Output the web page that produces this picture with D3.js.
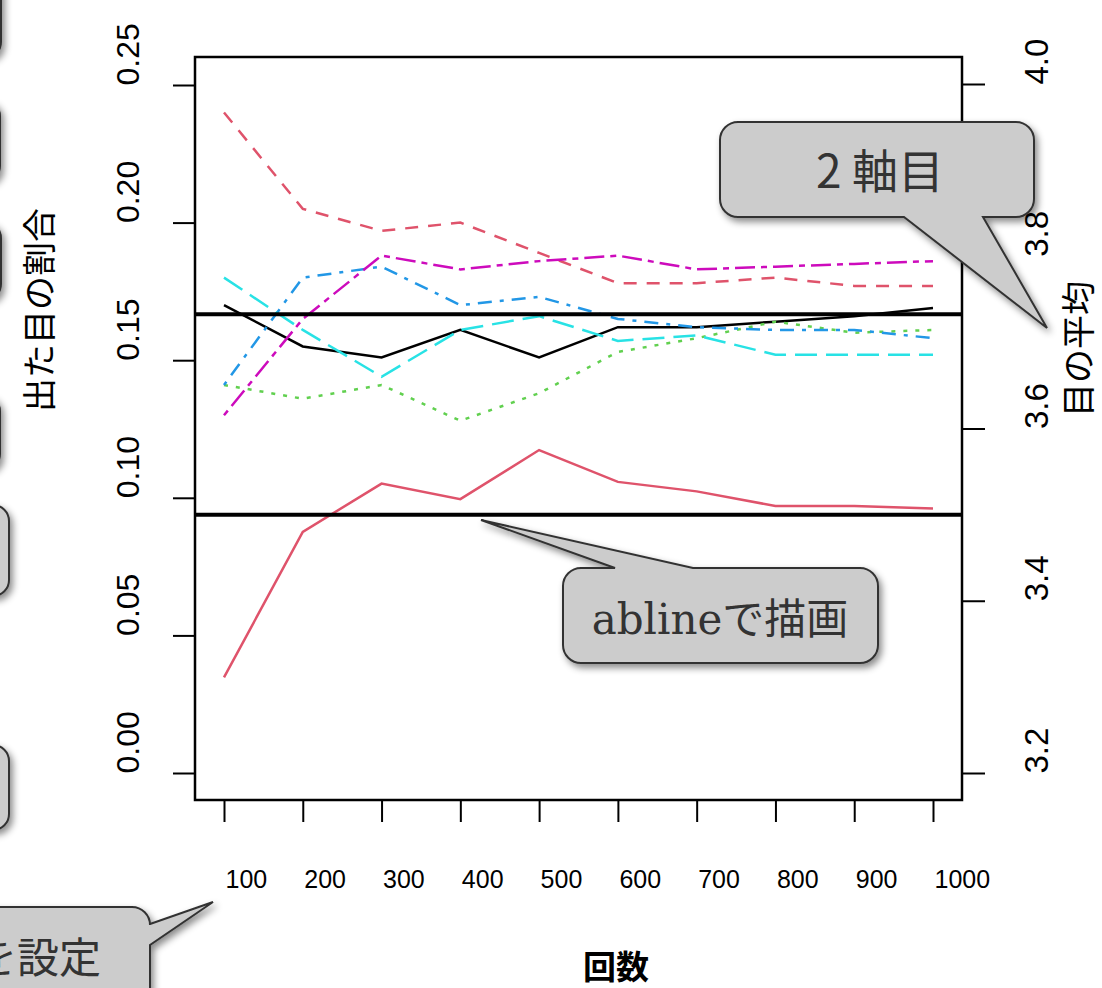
<!DOCTYPE html>
<html>
<head>
<meta charset="utf-8">
<script src="https://cdn.jsdelivr.net/npm/d3@7"></script>
<style>
  body { margin: 0; background: #fff; }
  svg { display: block; }
</style>
</head>
<body>
<div id="chart"></div>
<script>
// rounds (x) and proportions of each face, plus running mean
const rounds = [100, 200, 300, 400, 500, 600, 700, 800, 900, 1000];
const prop1 = [0.170, 0.155, 0.151, 0.161, 0.151, 0.162, 0.162, 0.164, 0.166, 0.169];
const prop2 = [0.240, 0.205, 0.197, 0.200, 0.189, 0.178, 0.178, 0.180, 0.177, 0.177];
const prop3 = [0.141, 0.136, 0.141, 0.128, 0.138, 0.153, 0.158, 0.164, 0.160, 0.161];
const prop4 = [0.141, 0.180, 0.184, 0.170, 0.173, 0.165, 0.162, 0.161, 0.161, 0.158];
const prop5 = [0.180, 0.161, 0.144, 0.161, 0.166, 0.157, 0.159, 0.152, 0.152, 0.152];
const prop6 = [0.130, 0.165, 0.188, 0.183, 0.186, 0.188, 0.183, 0.184, 0.185, 0.186];
const meanEye = [3.311, 3.480, 3.536, 3.518, 3.575, 3.538, 3.527, 3.510, 3.510, 3.507];

const leftTicks = [0, 0.05, 0.10, 0.15, 0.20, 0.25];
const rightTicks = [3.2, 3.4, 3.6, 3.8, 4.0];
const refProp = 1 / 6;
const refMean = 3.5;

const width = 1102, height = 988;
const box = { left: 195, right: 962, top: 57, bottom: 800 };

const svg = d3.select("#chart").append("svg")
  .attr("width", width)
  .attr("height", height);

const defs = svg.append("defs");
const shadow = defs.append("filter").attr("id", "shadow")
  .attr("x", "-20%").attr("y", "-20%").attr("width", "150%").attr("height", "160%");
shadow.append("feDropShadow")
  .attr("dx", 3).attr("dy", 4).attr("stdDeviation", 3.5)
  .attr("flood-color", "#000").attr("flood-opacity", 0.45);

const x = d3.scaleLinear().domain([100, 1000]).range([224, 933]);
const yL = d3.scaleLinear().domain([0, 0.25]).range([773, 85]);
const yR = d3.scaleLinear().domain([3.2, 4.0]).range([773, 84]);

const axisFont = "'Liberation Sans', Arial, sans-serif";
const jpFont = "'Noto Sans CJK JP', sans-serif";

// series
const series = [
  { values: prop1, color: "#000000", dash: null, scale: yL },
  { values: prop2, color: "#DF536B", dash: "13,10", scale: yL },
  { values: prop3, color: "#61D04F", dash: "4,8", scale: yL },
  { values: prop4, color: "#2297E6", dash: "4,8,14,8", scale: yL },
  { values: prop5, color: "#28E2E5", dash: "22,9", scale: yL },
  { values: prop6, color: "#CD0BBC", dash: "6,6,20,6", scale: yL },
  { values: meanEye, color: "#DF536B", dash: null, scale: yR }
];

const plot = svg.append("g");

series.forEach(s => {
  const line = d3.line()
    .x((d, i) => x(rounds[i]))
    .y(d => s.scale(d));
  plot.append("path")
    .datum(s.values)
    .attr("d", line)
    .attr("fill", "none")
    .attr("stroke", s.color)
    .attr("stroke-width", 2.5)
    .attr("stroke-dasharray", s.dash);
});

// ablines
plot.append("line")
  .attr("x1", box.left).attr("x2", box.right)
  .attr("y1", yL(refProp)).attr("y2", yL(refProp))
  .attr("stroke", "#000").attr("stroke-width", 4);
plot.append("line")
  .attr("x1", box.left).attr("x2", box.right)
  .attr("y1", yR(refMean)).attr("y2", yR(refMean))
  .attr("stroke", "#000").attr("stroke-width", 4);

// frame
svg.append("rect")
  .attr("x", box.left).attr("y", box.top)
  .attr("width", box.right - box.left).attr("height", box.bottom - box.top)
  .attr("fill", "none").attr("stroke", "#000").attr("stroke-width", 2.5);

// left axis
const leftAxis = svg.append("g").attr("transform", `translate(${box.left},0)`)
  .call(d3.axisLeft(yL).tickValues(leftTicks).tickSize(22).tickFormat(d3.format(".2f")));
leftAxis.select(".domain").remove();
leftAxis.selectAll(".tick line").attr("stroke-width", 2);
leftAxis.selectAll(".tick text")
  .attr("x", 0).attr("y", 0)
  .attr("text-anchor", "start")
  .attr("transform", "translate(-68,0) rotate(-90)").attr("dy", "0.36em")
  .style("font-family", axisFont).style("font-size", "32px").attr("fill", "#000");

// right axis
const rightAxis = svg.append("g").attr("transform", `translate(${box.right},0)`)
  .call(d3.axisRight(yR).tickValues(rightTicks).tickSize(23).tickFormat(d3.format(".1f")));
rightAxis.select(".domain").remove();
rightAxis.selectAll(".tick line").attr("stroke-width", 2);
rightAxis.selectAll(".tick text")
  .attr("x", 0).attr("y", 0)
  .attr("text-anchor", "start")
  .attr("transform", "translate(74,0) rotate(-90)").attr("dy", "0.36em")
  .style("font-family", axisFont).style("font-size", "33px").attr("fill", "#000");

// bottom axis
const bottomAxis = svg.append("g").attr("transform", `translate(0,${box.bottom})`)
  .call(d3.axisBottom(x).tickValues(rounds).tickSize(22).tickFormat(d => d));
bottomAxis.select(".domain").remove();
bottomAxis.selectAll(".tick line").attr("stroke-width", 2);
bottomAxis.selectAll(".tick text")
  .attr("y", 88).attr("dy", null).attr("x", 1)
  .attr("text-anchor", "start")
  .style("font-family", axisFont).style("font-size", "25px").attr("fill", "#000");

// axis titles
svg.append("text")
  .attr("transform", "translate(52,310) rotate(-90)")
  .attr("text-anchor", "middle")
  .style("font-family", jpFont).style("font-size", "34px")
  .text("出た目の割合");
svg.append("text")
  .attr("transform", "translate(1091,349) rotate(-90)")
  .attr("text-anchor", "middle")
  .style("font-family", jpFont).style("font-size", "34px")
  .text("目の平均");
svg.append("text")
  .attr("x", 616).attr("y", 979)
  .attr("text-anchor", "middle")
  .style("font-family", jpFont).style("font-size", "33px").style("font-weight", "bold")
  .text("回数");

// callouts
function calloutPath(x0, y0, x1, y1, r, ptr) {
  const p = d3.path();
  p.moveTo(x0 + r, y0);
  if (ptr.side === "top") { p.lineTo(ptr.a, y0); p.lineTo(ptr.tx, ptr.ty); p.lineTo(ptr.b, y0); }
  p.lineTo(x1 - r, y0);
  p.arcTo(x1, y0, x1, y0 + r, r);
  if (ptr.side === "right") { p.lineTo(x1, ptr.a); p.lineTo(ptr.tx, ptr.ty); p.lineTo(x1, ptr.b); }
  p.lineTo(x1, y1 - r);
  p.arcTo(x1, y1, x1 - r, y1, r);
  if (ptr.side === "bottom") { p.lineTo(ptr.b, y1); p.lineTo(ptr.tx, ptr.ty); p.lineTo(ptr.a, y1); }
  p.lineTo(x0 + r, y1);
  p.arcTo(x0, y1, x0, y1 - r, r);
  p.lineTo(x0, y0 + r);
  p.arcTo(x0, y0, x0 + r, y0, r);
  p.closePath();
  return p.toString();
}

const callouts = svg.append("g");

// partial boxes cut off at the left edge
const edgeBoxes = [
  { y0: -40, y1: 58, x1: 1 }, { y0: 100, y1: 182, x1: 0 }, { y0: 222, y1: 300, x1: 1 },
  { y0: 395, y1: 470, x1: 0 }, { y0: 505, y1: 596, x1: 9 }, { y0: 745, y1: 830, x1: 9 }
];
edgeBoxes.forEach(b => {
  callouts.append("path")
    .attr("d", calloutPath(-200, b.y0, b.x1, b.y1, 16, { side: "none" }))
    .attr("fill", "#cccccc").attr("stroke", "#333").attr("stroke-width", 2)
    .attr("filter", "url(#shadow)");
});

callouts.append("path")
  .attr("d", calloutPath(720, 122, 1034, 217, 18, { side: "bottom", a: 904, b: 983, tx: 1047, ty: 328 }))
  .attr("fill", "#cccccc").attr("stroke", "#333").attr("stroke-width", 2)
  .attr("filter", "url(#shadow)");
callouts.append("text")
  .attr("x", 880).attr("y", 188)
  .attr("text-anchor", "middle").attr("fill", "#333")
  .style("font-family", jpFont).style("font-size", "46px")
  .text("2 軸目");

callouts.append("path")
  .attr("d", calloutPath(563, 568, 878, 663, 18, { side: "top", a: 615, b: 693, tx: 481, ty: 520 }))
  .attr("fill", "#cccccc").attr("stroke", "#333").attr("stroke-width", 2)
  .attr("filter", "url(#shadow)");
const ab = callouts.append("text")
  .attr("x", 720).attr("y", 634)
  .attr("text-anchor", "middle").attr("fill", "#333")
  .style("font-size", "42px");
ab.append("tspan").style("font-family", "'DejaVu Serif', serif").text("abline");
ab.append("tspan").style("font-family", jpFont).text("で描画");

callouts.append("path")
  .attr("d", calloutPath(-300, 907, 150, 1100, 18, { side: "right", a: 924, b: 945, tx: 213, ty: 902 }))
  .attr("fill", "#cccccc").attr("stroke", "#333").attr("stroke-width", 2)
  .attr("filter", "url(#shadow)");
callouts.append("text")
  .attr("x", 101).attr("y", 973)
  .attr("text-anchor", "end").attr("fill", "#333")
  .style("font-family", jpFont).style("font-size", "42px")
  .text("軸ラベルを設定");
</script>
</body>
</html>
